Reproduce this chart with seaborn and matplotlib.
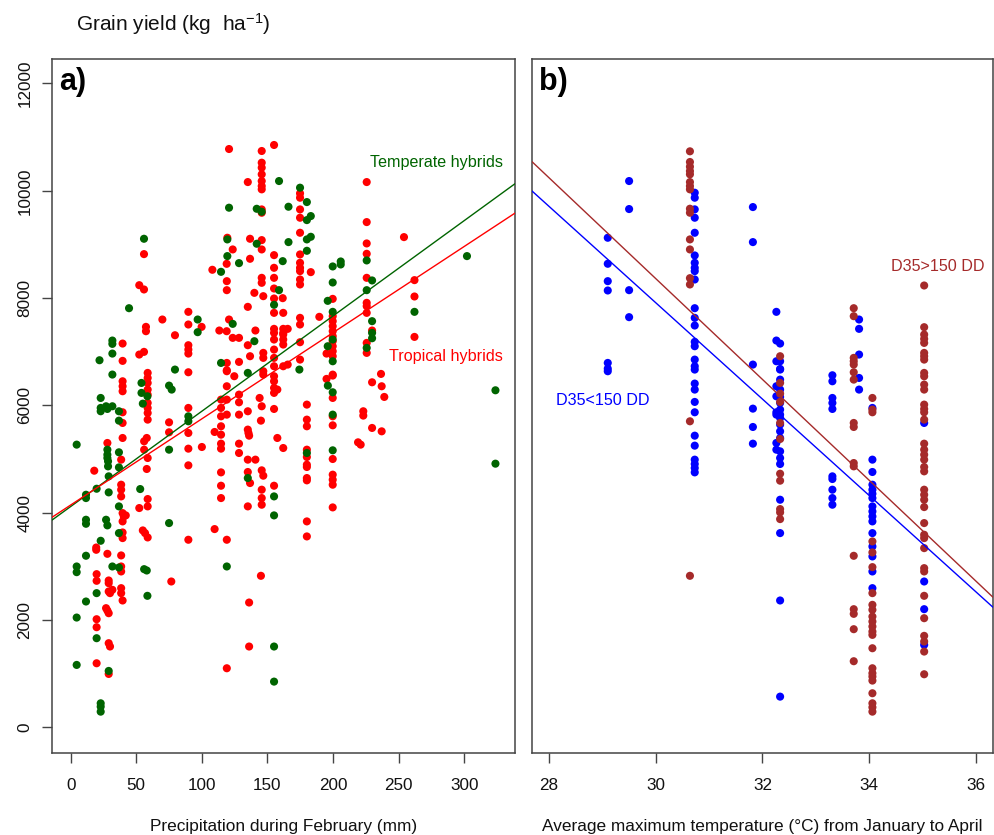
import matplotlib
matplotlib.use("Agg")
import matplotlib.pyplot as plt
import seaborn as sns
import pandas as pd

# ---------------- data ----------------
# Panel a: (precipitation in February [mm], grain yield [kg/ha])
temperate_points = [
    (158.8, 10181), (174.8, 10057), (180, 9789), (183, 9528), (180, 9453), (180, 9093), (183, 9142),
    (180, 8881), (166, 9702), (166, 9043), (161.6, 8688), (120.7, 9684), (141.8, 9664), (145.6, 9609),
    (119.4, 9093), (141.8, 9012), (119.4, 8782), (128.3, 8651), (114.6, 8489), (158.8, 8147), (155, 7874),
    (174.3, 6667), (199.7, 8589), (199.7, 8290), (199.7, 7743), (199.7, 7227), (199.7, 6822), (195.9, 7948),
    (195.9, 7102), (205.8, 8682), (205.8, 8626), (225.6, 8701), (225.6, 8147), (225.6, 7071), (229.7, 8328),
    (229.7, 7569), (229.7, 7351), (229.7, 7251), (262, 7743), (302, 8782), (55.9, 9105), (44.5, 7811),
    (96.8, 7600), (96.8, 7364), (123.5, 7519), (140, 7196), (114.6, 6791), (22, 6841), (31.8, 7208),
    (31.8, 7146), (31.8, 6965),
    (4.6, 5268), (4.6, 2997), (4.6, 2891), (4.6, 2045), (4.6, 1162),
    (11.7, 4334), (11.7, 4272), (11.7, 3868), (11.7, 3793), (11.7, 3197), (11.7, 2344),
    (19.8, 4446), (19.8, 2500), (19.8, 1660),
    (22.9, 6138), (22.9, 5952), (22.9, 5890), (22.9, 3476), (22.9, 447), (22.9, 385), (22.9, 291),
    (27, 5983), (28, 5933), (28, 5174), (28, 5081), (28, 5019), (28.5, 4957), (28.5, 4863), (29, 4677),
    (29, 4378), (27, 3868), (28, 3763), (29, 1050),
    (31.8, 6574), (31.8, 5983), (31.8, 2997),
    (36.8, 5890), (36.8, 5715), (36.8, 5125), (36.8, 4844), (36.8, 4117), (36.8, 3619), (36.8, 2978),
    (54, 6418), (54, 6232), (55, 6032), (53, 4440), (56, 2947), (58, 2922), (58.5, 2450), (58.5, 6169),
    (75, 6368), (77, 6294), (75, 5174), (75, 3806), (79.5, 6667),
    (89.7, 5796), (89.7, 5703), (119, 2997), (135, 6605), (135, 4645), (155, 4303), (155, 3949),
    (155, 1505), (155, 851), (180, 5112), (196, 6368), (199.7, 6244), (199.7, 5827), (199.7, 5162),
    (323.7, 6281), (323.7, 4913),
]

tropical_points = [
    (120.7, 10778), (145.6, 10741), (155, 10853), (145.6, 10523), (145.6, 10430), (145.6, 10306),
    (145.6, 10181), (145.6, 10088), (145.6, 10026), (135, 10162), (225.6, 10162),
    (174.8, 9951), (174.8, 9870), (174.8, 9652), (174.8, 9497), (174.8, 9217), (174.8, 8813), (174.8, 8657),
    (174.8, 8564), (174.8, 8502), (174.8, 8346), (174.8, 8253),
    (145.6, 9652), (145.6, 9590), (119.4, 9124), (136.7, 9105), (145.6, 9080), (145.6, 8906), (123.5, 8906),
    (136.7, 8732), (118.9, 8638), (108, 8527), (119, 8315), (119, 8147),
    (155, 8800), (155, 8564), (155, 8377), (155, 8178), (155, 7992), (155, 7724), (155, 7426), (155, 7351),
    (155, 7227), (155, 7040), (155, 6885), (155, 6729),
    (161.6, 7998), (140, 8097), (146.8, 8035), (145.6, 8377), (145.6, 8284), (135, 7836),
    (162, 7724), (162, 7426), (162, 7351), (162, 7320), (162, 7227), (162, 7133), (165.4, 7426),
    (174.8, 7631), (174.8, 7507), (174.8, 7177), (174.8, 6853), (183, 8483), (189.5, 7650),
    (199.7, 7985), (199.7, 7662), (199.7, 7569), (199.7, 7475), (199.7, 7382), (199.7, 7289), (199.7, 7196),
    (199.7, 7102), (199.7, 7009), (199.7, 6916), (199.7, 6573), (195, 6965),
    (225.6, 9416), (225.6, 9018), (225.6, 8825), (225.6, 8377), (225.6, 7911), (225.6, 7849), (225.6, 7724),
    (225.6, 7164), (225.6, 6978), (229.7, 7395),
    (254, 9136), (262, 8334), (262, 8029), (262, 7276),
    (55.9, 8819), (52.3, 8240), (55.9, 8160), (69.9, 7600), (57.4, 7463), (57.4, 7382), (79.5, 7307),
    (89.7, 7743), (89.7, 7507), (89.7, 7121), (89.7, 7040), (89.7, 6965), (99.8, 7463), (113.3, 7395),
    (118.9, 7382), (120.7, 7600), (123.5, 7258), (128.3, 7258), (135, 7121), (140.8, 7395), (136.7, 6916),
    (146.8, 6978), (146.8, 6885), (128.3, 6810), (119, 6791), (119, 6654), (162, 6729), (165.4, 6760),
    (39.6, 7152), (39.6, 6829), (52.3, 6947), (55.9, 6997),
    (18, 4782), (19.5, 3350), (19.5, 3308), (19.8, 2854), (19.8, 2730), (19.8, 2014), (19.8, 1865), (19.8, 1193),
    (28, 5299), (28, 3233), (29, 2736), (29, 2686), (29, 2531), (30, 2500), (27, 2220), (28, 2176), (29, 2126),
    (29, 1567), (30, 1505), (29, 994), (31.8, 2562),
    (39.6, 6449), (39.6, 6356), (39.6, 6263), (39.6, 5871), (39.6, 5672), (39.6, 5392), (38.5, 4988),
    (38.5, 4521), (38.5, 4428), (38.5, 4303), (39.6, 3992), (40.5, 3930), (39.6, 3837), (39.6, 3631),
    (39.6, 3526), (38.5, 3203), (38.5, 2997), (38.5, 2904), (38.5, 2593), (38.5, 2500), (39.6, 2363), (42, 3949),
    (58.7, 6605), (58.7, 6511), (58.7, 6418), (58.7, 6294), (58.7, 6200), (58.7, 6045), (58.7, 5952),
    (58.7, 5858), (58.7, 5734), (58, 5392), (56, 5330), (56, 5174), (58.7, 5019), (58, 4814), (58.7, 4254),
    (58.7, 4117), (52.3, 4086), (55, 3669), (56.7, 3619), (58.7, 3538),
    (75, 5684), (75, 5498), (76.7, 2717),
    (89.7, 6617), (89.7, 5952), (89.7, 5485), (89.7, 5193), (89.7, 4882), (89.7, 3495), (100, 5224),
    (109.7, 5504), (109.7, 3694),
    (114.6, 6107), (114.6, 5952), (114.6, 5796), (114.6, 5610), (114.6, 5454), (114.6, 5286), (114.6, 5193),
    (114.6, 4751), (114.6, 4502), (114.6, 4272),
    (119, 6636), (119, 6356), (119, 6107), (119, 5827), (119, 3495), (119, 1100), (124.7, 6543),
    (128.3, 6200), (128.3, 6057), (128.3, 5827), (128.3, 5286), (128.3, 5112),
    (135, 5890), (135, 5548), (135.5, 5485), (136, 5435), (135, 4988), (135, 4758), (136.7, 4552), (135, 4117),
    (136, 2325), (136, 1505), (140.8, 4988),
    (146.8, 6636), (146.8, 6574), (144, 6138), (145.6, 5983), (145, 5715), (145.6, 4789), (146.8, 4689),
    (145.6, 4428), (145.6, 4272), (145.6, 4148), (145, 2823),
    (155, 6543), (155, 6449), (155, 6325), (155, 6232), (155, 5933), (155, 4502), (157.5, 6294),
    (157.5, 5392), (162, 5205),
    (180, 6014), (180, 5734), (180, 5610), (180, 5174), (180, 5037), (180, 4894), (180, 4851), (180, 4645),
    (180, 4602), (180, 3837), (180, 3557),
    (195, 6493), (199.7, 6555), (199.7, 6138), (199.7, 5796), (199.7, 5628), (199.7, 5000), (199.7, 4708),
    (199.7, 4614), (199.7, 4521), (199.7, 4098),
    (223, 5890), (223, 5809), (229.7, 5579), (219, 5311), (221, 5268), (229.7, 6430),
    (236.5, 6586), (237, 6356), (239, 6157), (237, 5516),
]

# Panel b: (average max temperature Jan-Apr [C], grain yield [kg/ha])
cool_points = [  # D35<150 DD
    (29.1, 9124), (29.1, 8639), (29.1, 8315), (29.1, 8141), (29.1, 6791), (29.1, 6685), (29.1, 6636),
    (29.5, 10181), (29.5, 9659), (29.5, 8147), (29.5, 7644),
    (30.73, 9963), (30.73, 9870), (30.73, 9653), (30.73, 9497), (30.73, 9217), (30.73, 8794), (30.73, 8657),
    (30.73, 8564), (30.73, 8502), (30.73, 8346), (30.73, 7811), (30.73, 7631), (30.73, 7488), (30.73, 7183),
    (30.73, 7102), (30.73, 6853), (30.73, 6729), (30.73, 6667), (30.73, 6406), (30.73, 6294), (30.73, 6064),
    (30.73, 5871), (30.73, 5435), (30.73, 5249), (30.73, 4988), (30.73, 4907), (30.73, 4832), (30.73, 4751),
    (31.82, 9696), (31.82, 9043), (31.82, 6760), (31.82, 5939), (31.82, 5597), (31.82, 5286),
    (32.26, 7743), (32.26, 7208), (32.26, 6822), (32.26, 6356), (32.26, 6169), (32.26, 5871), (32.26, 5827),
    (32.26, 5299), (32.26, 5174),
    (32.33, 7152), (32.33, 6822), (32.33, 6679), (32.33, 6667), (32.33, 6480), (32.33, 6294), (32.33, 6157),
    (32.33, 6045), (32.33, 5921), (32.33, 5827), (32.33, 5765), (32.33, 5641), (32.33, 5516), (32.33, 5392),
    (32.33, 5143), (32.33, 5019), (32.33, 4907), (32.33, 4241), (32.33, 3619), (32.33, 2363), (32.33, 571),
    (33.31, 6561), (33.31, 6449), (33.31, 6138), (33.31, 6045), (33.31, 5933), (33.31, 4677), (33.31, 4627),
    (33.31, 4428), (33.31, 4272), (33.31, 4148),
    (33.81, 7600), (33.81, 7426), (33.81, 6947), (33.81, 6511), (33.81, 6294),
    (34.06, 5952), (34.06, 4988), (34.06, 4758), (34.06, 4521), (34.06, 4428), (34.06, 4353), (34.06, 4272),
    (34.06, 4117), (34.06, 4023), (34.06, 3930), (34.06, 3837), (34.06, 3619), (34.06, 3370), (34.06, 3184),
    (34.06, 2904), (34.06, 2593),
    (35.03, 5672), (35.03, 2717), (35.03, 2201), (35.03, 1536),
]

hot_points = [  # D35>150 DD
    (30.64, 10735), (30.64, 10536), (30.64, 10449), (30.64, 10368), (30.64, 10306), (30.64, 10162),
    (30.64, 10088), (30.64, 10026), (30.64, 9665), (30.64, 9590), (30.64, 9093), (30.64, 8906),
    (30.64, 8371), (30.64, 8253), (30.64, 5703), (30.64, 2823),
    (32.33, 6916), (32.33, 6418), (32.33, 6219), (32.33, 6064), (32.33, 5672), (32.33, 5373), (32.33, 4726),
    (32.33, 4596), (32.33, 4067), (32.33, 4005), (32.33, 3880),
    (33.71, 7811), (33.71, 7662), (33.71, 6885), (33.71, 6822), (33.71, 6760), (33.71, 6617), (33.71, 6480),
    (33.71, 5672), (33.71, 5597), (33.71, 4925), (33.71, 4863), (33.71, 3196), (33.71, 2201), (33.71, 2114),
    (33.71, 1828), (33.71, 1231),
    (34.06, 6138), (34.06, 5921), (34.06, 5871), (34.06, 3464), (34.06, 3259), (34.06, 2985), (34.06, 2500),
    (34.06, 2282), (34.06, 2189), (34.06, 2064), (34.06, 1971), (34.06, 1878), (34.06, 1784), (34.06, 1722),
    (34.06, 1473), (34.06, 1100), (34.06, 1007), (34.06, 945), (34.06, 870), (34.06, 634), (34.06, 447),
    (34.06, 372), (34.06, 291),
    (35.03, 8234), (35.03, 7457), (35.03, 7320), (35.03, 7239), (35.03, 7164), (35.03, 6978), (35.03, 6916),
    (35.03, 6853), (35.03, 6605), (35.03, 6542), (35.03, 6387), (35.03, 6294), (35.03, 6014), (35.03, 5933),
    (35.03, 5871), (35.03, 5734), (35.03, 5286), (35.03, 5174), (35.03, 5081), (35.03, 4988), (35.03, 4851),
    (35.03, 4770), (35.03, 4428), (35.03, 4334), (35.03, 4241), (35.03, 4104), (35.03, 3806), (35.03, 3588),
    (35.03, 3526), (35.03, 3339), (35.03, 2966), (35.03, 2904), (35.03, 2450), (35.03, 2033), (35.03, 1704),
    (35.03, 1598), (35.03, 1411), (35.03, 988),
]

# fitted regression lines: (x reference, yield at x reference, slope)
temperate_fit = (0, 4114, 17.77)
tropical_fit = (0, 4142, 16.07)
hot_fit = (28, 10241, -939.6)
cool_fit = (28, 9708, -898.0)

group_labels_a = ["Tropical hybrids", "Temperate hybrids"]
group_labels_b = ["D35<150 DD", "D35>150 DD"]
precip_ticks = [0, 50, 100, 150, 200, 250, 300]
temp_ticks = [28, 30, 32, 34, 36]
yield_ticks = [0, 2000, 4000, 6000, 8000, 10000, 12000]

# ---------------- styling ----------------
C_TEMP = "#006400"
C_TROP = "#FF0000"
C_COOL = "#0000FF"
C_HOT = "#A52A2A"
SPINE = "#444444"

sns.set_theme(style="white")
plt.rcParams["font.family"] = ["Liberation Sans", "DejaVu Sans"]
plt.rcParams["mathtext.fontset"] = "custom"
plt.rcParams["mathtext.rm"] = "Liberation Sans"
plt.rcParams["mathtext.it"] = "Liberation Sans:italic"

fig = plt.figure(figsize=(9.95, 8.35), dpi=100)
W, H = 995.0, 835.0
ax1 = fig.add_axes([52 / W, 1 - 752.7 / H, (515 - 52) / W, (752.7 - 58.5) / H])
ax2 = fig.add_axes([532 / W, 1 - 752.7 / H, (993 - 532) / W, (752.7 - 58.5) / H])

df_a = pd.DataFrame(
    [(x, y, group_labels_a[0]) for x, y in tropical_points]
    + [(x, y, group_labels_a[1]) for x, y in temperate_points],
    columns=["precip", "yield", "group"],
)
df_b = pd.DataFrame(
    [(x, y, group_labels_b[0]) for x, y in cool_points]
    + [(x, y, group_labels_b[1]) for x, y in hot_points],
    columns=["temp", "yield", "group"],
)

sns.scatterplot(data=df_a, x="precip", y="yield", hue="group",
                palette={group_labels_a[0]: C_TROP, group_labels_a[1]: C_TEMP},
                s=34, linewidth=0, legend=False, ax=ax1, zorder=2)
sns.scatterplot(data=df_b, x="temp", y="yield", hue="group",
                palette={group_labels_b[0]: C_COOL, group_labels_b[1]: C_HOT},
                s=34, linewidth=0, legend=False, ax=ax2, zorder=2)

for ax, fit, col in [(ax1, temperate_fit, C_TEMP), (ax1, tropical_fit, C_TROP),
                     (ax2, hot_fit, C_HOT), (ax2, cool_fit, C_COOL)]:
    ax.axline((fit[0], fit[1]), slope=fit[2], color=col, lw=1.0, zorder=3)

ax1.set_xlim(-14.2, 338.6)
ax2.set_xlim(27.68, 36.32)
for ax in (ax1, ax2):
    ax.set_ylim(-474, 12465)
    for sp in ax.spines.values():
        sp.set_visible(True)
        sp.set_color(SPINE)
        sp.set_linewidth(1.1)
    ax.set_ylabel("")

ax1.set_xticks(precip_ticks)
ax1.set_yticks(yield_ticks)
ax2.set_xticks(temp_ticks)
ax2.set_yticks([])

for ax in (ax1, ax2):
    ax.tick_params(axis="x", bottom=True, direction="out", length=7, width=1,
                   color=SPINE, labelsize=12.3, pad=11, labelcolor="#111111")
ax1.tick_params(axis="y", left=True, direction="out", length=7, width=1,
                color=SPINE, labelsize=12.3, pad=7, labelrotation=90, labelcolor="#111111")
for lbl in ax1.get_yticklabels():
    lbl.set_va("center")

ax1.set_xlabel("Precipitation during February (mm)", fontsize=12.4, labelpad=19, color="#111111")
ax2.set_xlabel("Average maximum temperature (\u00b0C) from January to April", fontsize=12.4,
               labelpad=19, color="#111111")

ax1.text(0.016, 0.988, "a)", transform=ax1.transAxes, ha="left", va="top",
         fontsize=22, fontweight="bold", color="black")
ax2.text(0.016, 0.988, "b)", transform=ax2.transAxes, ha="left", va="top",
         fontsize=22, fontweight="bold", color="black")

ax1.text(329.5, 10530, group_labels_a[1], color=C_TEMP, ha="right", va="center", fontsize=11.6)
ax1.text(329.5, 6910, group_labels_a[0], color=C_TROP, ha="right", va="center", fontsize=11.6)
ax2.text(36.17, 8595, group_labels_b[1], color=C_HOT, ha="right", va="center", fontsize=11.6)
ax2.text(28.126, 6083, group_labels_b[0], color=C_COOL, ha="left", va="center", fontsize=11.6)

fig.text(76 / W, 1 - 24 / H, "Grain yield (kg  ha$^{-1}$)", ha="left", va="center",
         fontsize=15, color="#111111")

fig.savefig("out.png", dpi=100)
